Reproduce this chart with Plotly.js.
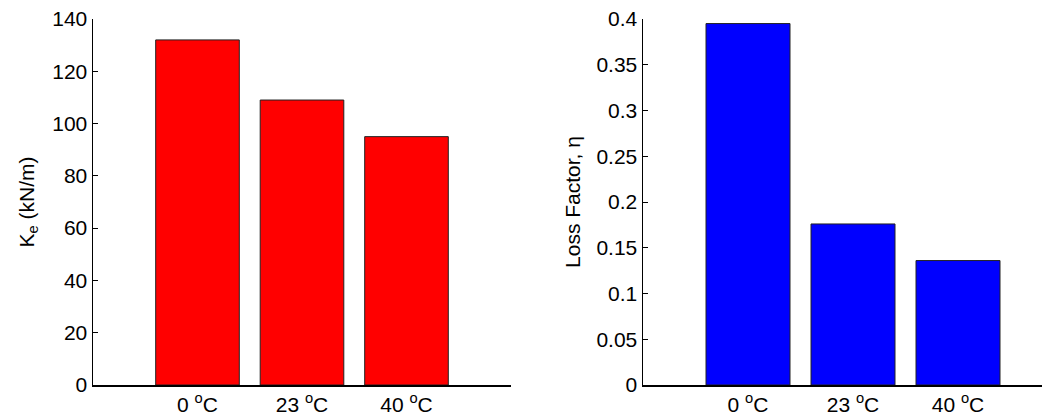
<!DOCTYPE html>
<html>
<head>
<meta charset="utf-8">
<script src="https://cdn.plot.ly/plotly-3.0.1.min.js"></script>
<style>html,body{margin:0;padding:0;background:#fff}#chart{width:1042px;height:415px}</style>
</head>
<body>
<div id="chart"></div>
<script>
const categories = [1, 2, 3];
const tickLabels = ["0 <sup>o</sup>C", "23 <sup>o</sup>C", "40 <sup>o</sup>C"];
const stiffness = [132, 109, 95];
const lossFactor = [0.395, 0.176, 0.136];

const font = {family: "Liberation Sans, Arial, sans-serif", size: 21, color: "#000"};

const traces = [
  {type: "bar", x: categories, y: stiffness, width: 0.8, xaxis: "x", yaxis: "y",
   marker: {color: "#ff0000", line: {color: "#222", width: 1}}, hoverinfo: "y"},
  {type: "bar", x: categories, y: lossFactor, width: 0.8, xaxis: "x2", yaxis: "y2",
   marker: {color: "#0000ff", line: {color: "#222", width: 1}}, hoverinfo: "y"}
];

const xCommon = {
  tickmode: "array", tickvals: categories, ticktext: tickLabels,
  showline: true, linecolor: "#000", linewidth: 1.5, ticks: "", showgrid: false,
  zeroline: false, tickfont: font, fixedrange: true
};
const yCommon = {
  showline: true, linecolor: "#000", linewidth: 1.5, ticks: "inside", ticklen: 5,
  tickcolor: "#000", showgrid: false, zeroline: false, tickfont: font, fixedrange: true
};

const layout = {
  width: 1042, height: 415,
  margin: {l: 0, r: 0, t: 19, b: 30, pad: 0},
  paper_bgcolor: "#fff", plot_bgcolor: "#fff",
  showlegend: false, font: font,
  xaxis: Object.assign({}, xCommon, {domain: [93/1042, 511/1042], range: [0, 4], anchor: "y"}),
  yaxis: Object.assign({}, yCommon, {range: [0, 140], dtick: 20, anchor: "x",
    title: {text: "K<sub>e</sub> (kN/m)", font: font, standoff: 12}}),
  xaxis2: Object.assign({}, xCommon, {domain: [643/1042, 1], range: [0, 3.8], anchor: "y2"}),
  yaxis2: Object.assign({}, yCommon, {range: [0, 0.4], dtick: 0.05, anchor: "x2",
    title: {text: "Loss Factor, η", font: font, standoff: 10}})
};

Plotly.newPlot("chart", traces, layout, {displayModeBar: false, staticPlot: true});
</script>
</body>
</html>
